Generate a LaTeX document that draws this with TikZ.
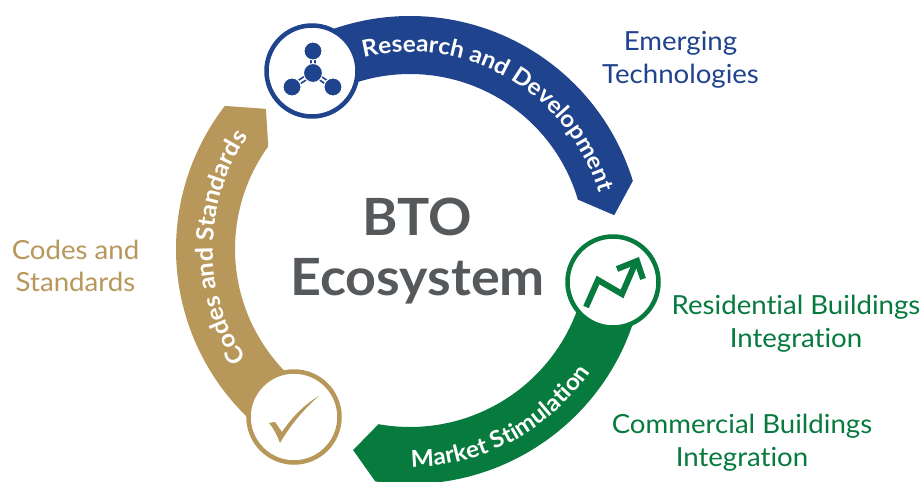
\documentclass[tikz,border=0pt]{standalone}
\usepackage{fontspec}
\setmainfont{Lato}[FakeStretch=1.05,Ligatures=NoCommon]
\usetikzlibrary{decorations.text,calc}
\definecolor{rdblue}{HTML}{1F438C}
\definecolor{msgreen}{HTML}{077A3E}
\definecolor{csgold}{HTML}{B8975A}
\definecolor{btogrey}{HTML}{55595C}
\tikzset{
  sidelabel/.style={align=center,font=\fontsize{26.3}{32.8}\selectfont,inner sep=0pt},
  iconring/.style={draw,line width=4.5pt,fill=white,circle,minimum size=91pt,inner sep=0pt},
  arctext/.style={decorate,decoration={text along path,text align=center,raise=0pt}},
}
\begin{document}
\begin{tikzpicture}[x=1pt,y=1pt]
\useasboundingbox (0,0) rectangle (924,482);
\clip (0,0) rectangle (924,482);
\fill[white] (0,0) rectangle (924,482);
\coordinate (c) at (410,233);
% bands
\fill[rdblue] ($(c)+(118:233)$) arc (118:17:233) -- ($(c)+(9.4:207)$) -- ($(c)+(16.4:175)$) arc (16.4:118:175) -- cycle;
\fill[csgold] ($(c)+(235:234)$) arc (235:142.3:234) -- ($(c)+(135.8:201)$) -- ($(c)+(144.1:175)$) arc (144.1:235:175) -- cycle;
\fill[msgreen] ($(c)+(-9:235)$) arc (-9:-98.5:235) -- ($(c)+(-105.8:209)$) -- ($(c)+(-100.2:178)$) arc (-100.2:-9:178) -- cycle;
% rings
\node[iconring,draw=rdblue] (rd) at (312,411) {};
\node[iconring,draw=csgold] (cs) at (294,65) {};
\node[iconring,draw=msgreen] (ms) at (613,200) {};
% molecule
\coordinate (mc) at (313,409);
\coordinate (mt) at (313,431);
\coordinate (ml) at (292,395);
\coordinate (mr) at (333,395);
\foreach \e in {mt,ml,mr}{
  \draw[rdblue,line width=5.5pt] (mc) -- (\e);
  \draw[white,line width=2pt] (mc) -- (\e);
  \filldraw[fill=rdblue,draw=white,line width=1pt] (\e) circle (9pt);
}
\filldraw[fill=rdblue,draw=white,line width=1pt] (mc) circle (9.5pt);
% trend arrow
\draw[msgreen,line width=6pt,miter limit=10] (586,175) -- (598,202) -- (622,188) -- (635,218);
\draw[msgreen,line width=6pt,miter limit=10] (617,213) -- (637,221) -- (643,203);
% check
\fill[csgold] (269,59) -- (275,60) -- (282,50) .. controls (292,65) and (305,78) .. (319,86) .. controls (305,74) and (291,58) .. (280,39) .. controls (277,47) and (274,53) .. (269,59) -- cycle;
% band text
\path[arctext,decoration={text={|\fontsize{23.3}{27}\bfseries\color{white}|Research and Development}}]
  ($(c)+(108:197)$) arc (108:12:197);
\path[arctext,decoration={text={|\fontsize{24}{28}\bfseries\color{white}|Codes and Standards}}]
  ($(c)+(221:197)$) arc (221:138:197);
\path[arctext,decoration={text={|\fontsize{23.3}{27}\bfseries\color{white}|Market Stimulation}}]
  ($(c)+(-95:218)$) arc (-95:-29:218);
% centre
\node[inner sep=0pt,font=\fontsize{51.3}{60}\selectfont\bfseries,text=btogrey,align=center] (title) at (417.5,231) {BTO\\Ecosystem};
% side labels
\node[sidelabel,text=rdblue] (l1) at (680.5,422) {Emerging\\Technologies};
\node[sidelabel,text=csgold] (l2) at (75.5,216) {Codes and\\Standards};
\node[sidelabel,text=msgreen] (l3) at (796,158) {Residential Buildings\\Integration};
\node[sidelabel,text=msgreen] (l4) at (742,39.5) {Commercial Buildings\\Integration};
\end{tikzpicture}
\end{document}
